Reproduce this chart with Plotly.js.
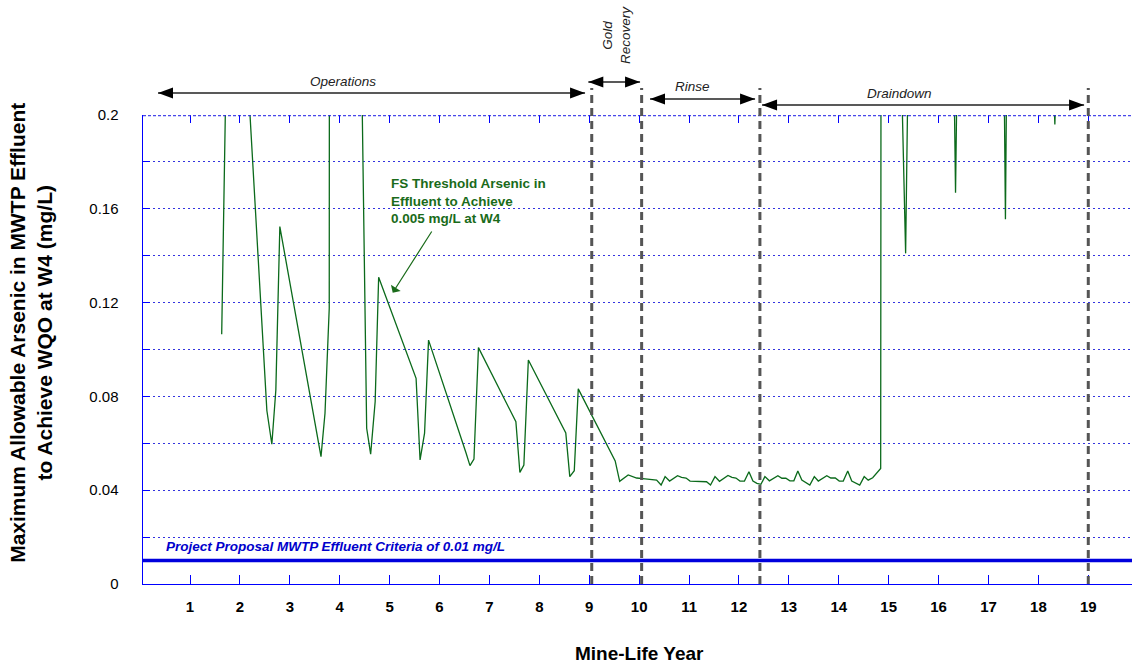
<!DOCTYPE html>
<html>
<head>
<meta charset="utf-8">
<script src="https://cdn.plot.ly/plotly-3.0.1.min.js"></script>
<style>html,body{margin:0;padding:0;background:#fff;}#chart{width:1132px;height:663px;}</style>
</head>
<body>
<div id="chart"></div>
<script>
// ---- data ----
const years = [
  1.635, 1.721, 1.80, 1.97, 2.13, 2.54, 2.64, 2.72, 2.80,
  3.625, 3.705, 3.79, 3.80, 4.05, 4.30, 4.42, 4.54, 4.62, 4.71, 4.78,
  5.53, 5.61, 5.70, 5.78, 6.53, 6.61, 6.69, 6.78,
  7.53, 7.61, 7.69, 7.78, 8.53, 8.61, 8.70, 8.78,
  9.52, 9.61, 9.78, 9.95, 10.12, 10.35, 10.44, 10.52, 10.61, 10.77, 10.85, 10.94,
  11.02, 11.35, 11.43, 11.52, 11.61, 11.78, 11.86, 11.94,
  12.02, 12.11, 12.20, 12.28, 12.36, 12.44, 12.52, 12.61, 12.78, 12.86, 12.94,
  13.02, 13.10, 13.18, 13.26, 13.34, 13.42, 13.51, 13.59, 13.76, 13.84, 13.93,
  14.01, 14.09, 14.18, 14.26, 14.34, 14.42, 14.51, 14.59, 14.68, 14.76, 14.84,
  14.86, 15.05, 15.18, 15.26, 15.34, 15.42, 15.80,
  16.10, 16.26, 16.34, 16.42, 16.80,
  17.10, 17.26, 17.34, 17.42, 17.80,
  18.10, 18.25, 18.33, 18.42, 18.90
];
const arsenic = [
  0.1065, 0.1765, 0.32, 0.34, 0.227, 0.074, 0.0596, 0.0827, 0.1524,
  0.0543, 0.0728, 0.1176, 0.50, 0.40, 0.30, 0.25, 0.0664, 0.0554, 0.0777, 0.1308,
  0.0877, 0.0529, 0.0643, 0.104, 0.056, 0.0505, 0.0533, 0.1008,
  0.0692, 0.0476, 0.0507, 0.0955, 0.0644, 0.0458, 0.0483, 0.0832,
  0.0525, 0.0438, 0.0465, 0.0452, 0.0448, 0.0443, 0.0422, 0.0458, 0.0439, 0.0462, 0.0455, 0.0452,
  0.0439, 0.0436, 0.0422, 0.0458, 0.0438, 0.0463, 0.0455, 0.0452,
  0.0439, 0.0439, 0.0479, 0.0439, 0.0429, 0.0425, 0.0458, 0.0440, 0.0462, 0.0451, 0.0451,
  0.0440, 0.0440, 0.0482, 0.0443, 0.0434, 0.0422, 0.0458, 0.0439, 0.0462, 0.0452, 0.0452,
  0.0439, 0.0439, 0.0482, 0.0439, 0.0432, 0.0422, 0.0458, 0.0443, 0.0453, 0.0475, 0.0493,
  0.60, 0.45, 0.30, 0.2145, 0.141, 0.272, 0.40,
  0.35, 0.30, 0.1669, 0.30, 0.38,
  0.36, 0.34, 0.1555, 0.36, 0.32,
  0.28, 0.25, 0.196, 0.26, 0.30
];
const criterion = 0.01;
const xTickVals = [1,2,3,4,5,6,7,8,9,10,11,12,13,14,15,16,17,18,19];
const yTickVals = [0, 0.04, 0.08, 0.12, 0.16, 0.2];
const yTickText = ['0', '0.04', '0.08', '0.12', '0.16', '0.2'];
const yMinorVals = [0.02, 0.06, 0.10, 0.14, 0.18];
const phaseBoundaries = [9.05, 10.05, 12.42, 19.0];
const phaseNames = ['Operations', 'Gold<br>Recovery', 'Rinse', 'Draindown'];
const phaseArrowStart = [0.359, 8.982, 10.218, 12.463];
const phaseArrowEnd = [8.916, 10.018, 12.323, 18.916];

// ---- layout helpers ----
const FONT = 'Arial, "Liberation Sans", sans-serif';
const BLUE = '#0000ff';
const GRID = 'rgba(30,30,220,0.9)';
const arrowY = [1.0469, 1.0704, 1.0341, 1.0213];
const labelPos = [[4.066, 1.0704, 0], [9.557, 1.1706, -90], [11.078, 1.0608, 0], [15.21, 1.0469, 0]];

const shapes = [];
// top frame dotted
shapes.push({type: 'line', xref: 'paper', yref: 'y', x0: 0, x1: 1, y0: 0.2, y1: 0.2,
  line: {color: 'rgba(40,40,230,0.85)', width: 2.5, dash: '3px,2px'}});
// criterion line
shapes.push({type: 'line', xref: 'paper', yref: 'y', x0: 0, x1: 1, y0: criterion, y1: criterion,
  line: {color: '#0000dd', width: 3.5}});
// phase boundaries
phaseBoundaries.forEach(b => shapes.push({type: 'line', xref: 'x', yref: 'paper', x0: b, x1: b, y0: 0, y1: 1.0576,
  line: {color: '#555555', width: 3, dash: '8px,5px'}}));
// phase arrows
phaseArrowStart.forEach((s, i) => {
  const e = phaseArrowEnd[i], y = arrowY[i];
  shapes.push({type: 'line', xref: 'x', yref: 'paper', x0: s, x1: e, y0: y, y1: y,
    line: {color: '#222222', width: 1.3}});
  shapes.push({type: 'path', xref: 'x', yref: 'paper', xsizemode: 'pixel', ysizemode: 'pixel',
    xanchor: s, yanchor: y, path: 'M0,0 L15,5.5 L15,-5.5 Z', fillcolor: '#000', line: {width: 0}});
  shapes.push({type: 'path', xref: 'x', yref: 'paper', xsizemode: 'pixel', ysizemode: 'pixel',
    xanchor: e, yanchor: y, path: 'M0,0 L-15,5.5 L-15,-5.5 Z', fillcolor: '#000', line: {width: 0}});
});

const annotations = [];
phaseNames.forEach((n, i) => annotations.push({
  text: n, xref: 'x', yref: 'paper', x: labelPos[i][0], y: labelPos[i][1], textangle: labelPos[i][2],
  showarrow: false, xanchor: 'center', yanchor: 'middle',
  font: {family: FONT, size: 13.5, style: 'italic', color: '#222'}
}));
annotations.push({
  text: 'FS Threshold Arsenic in<br>Effluent to Achieve<br>0.005 mg/L at W4',
  xref: 'x', yref: 'y', x: 4.988, y: 0.1635, xanchor: 'left', yanchor: 'middle', align: 'left',
  showarrow: false, font: {family: FONT, size: 13.5, weight: 'bold', color: '#1a6b1a'}
});
annotations.push({
  text: ' ', xref: 'x', yref: 'y', x: 5.062, y: 0.1242, ax: 42, ay: -66,
  showarrow: true, arrowhead: 1, arrowsize: 1.6, arrowwidth: 1.2, arrowcolor: '#1a6b1a', standoff: 0
});
annotations.push({
  text: 'Project Proposal MWTP Effluent Criteria of 0.01 mg/L',
  xref: 'x', yref: 'y', x: 0.48, y: 0.0159, xanchor: 'left', yanchor: 'middle', showarrow: false,
  font: {family: FONT, size: 13.5, weight: 'bold', style: 'italic', color: '#0000cc'}
});
annotations.push({
  text: 'Maximum Allowable Arsenic in MWTP Effluent<br>to Achieve WQO at W4 (mg/L)',
  xref: 'paper', yref: 'paper', x: -0.1135, y: 0.535, textangle: -90, showarrow: false,
  xanchor: 'center', yanchor: 'middle', font: {family: FONT, size: 21, weight: 'bold', color: '#000'}
});
annotations.push({
  text: 'Mine-Life Year', xref: 'paper', yref: 'paper', x: 0.5025, y: -0.149, showarrow: false,
  xanchor: 'center', yanchor: 'middle', font: {family: FONT, size: 19, weight: 'bold', color: '#000'}
});

const traces = [
  {x: years, y: arsenic, type: 'scatter', mode: 'lines', line: {color: '#0b6a1b', width: 1.3},
   hoverinfo: 'x+y', cliponaxis: true},
  {x: [xTickVals[0]], y: [0], xaxis: 'x2', type: 'scatter', mode: 'markers', marker: {opacity: 0}, hoverinfo: 'skip'}
];

const layout = {
  width: 1132, height: 663,
  margin: {l: 143, r: 0, t: 115, b: 79, pad: 0},
  paper_bgcolor: '#fff', plot_bgcolor: '#fff',
  showlegend: false,
  font: {family: FONT, color: '#000'},
  xaxis: {
    range: [0.058, 19.876], tickmode: 'array', tickvals: xTickVals,
    ticks: 'inside', ticklen: 9, tickcolor: BLUE, tickwidth: 1,
    showline: true, linecolor: BLUE, linewidth: 1, showgrid: false, zeroline: false,
    tickfont: {family: FONT, size: 15, weight: 'bold', color: '#000'}, ticklabelstandoff: 9
  },
  xaxis2: {
    overlaying: 'x', side: 'top', matches: 'x', tickmode: 'array', tickvals: xTickVals,
    ticks: 'inside', ticklen: 8, tickcolor: BLUE, showticklabels: false,
    showline: false, showgrid: false, zeroline: false
  },
  yaxis: {
    range: [0, 0.2], tickmode: 'array', tickvals: yTickVals, ticktext: yTickText,
    ticks: 'inside', ticklen: 7, tickcolor: BLUE, tickwidth: 1,
    showline: true, linecolor: BLUE, linewidth: 1.5, zeroline: false,
    showgrid: true, gridcolor: GRID, gridwidth: 1, griddash: '2px,3px',
    tickfont: {family: FONT, size: 15, color: '#000'}, ticklabelstandoff: 20,
    minor: {tickmode: 'array', tickvals: yMinorVals, ticks: 'inside', ticklen: 7, tickcolor: BLUE,
            showgrid: true, gridcolor: GRID, gridwidth: 1, griddash: '2px,3px'}
  },
  shapes: shapes,
  annotations: annotations
};

Plotly.newPlot('chart', traces, layout, {displayModeBar: false, staticPlot: true});
</script>
</body>
</html>
